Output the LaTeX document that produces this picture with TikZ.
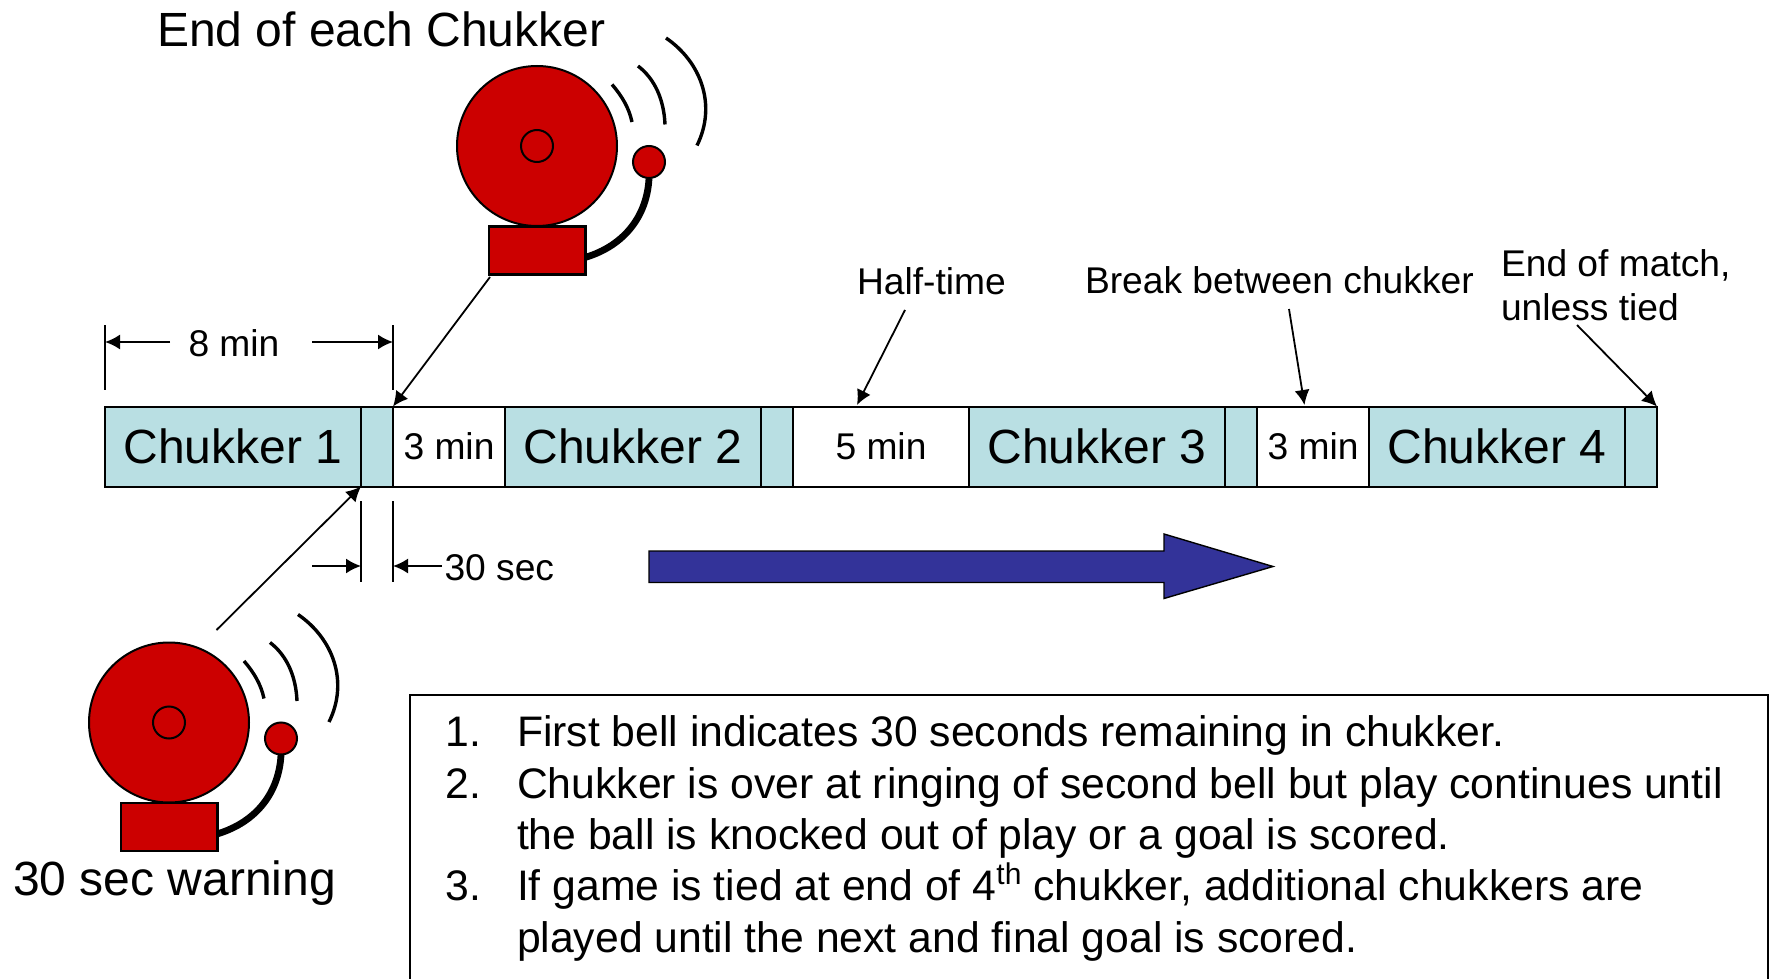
\documentclass[tikz,border=0pt]{standalone}
\usepackage{fontspec}
\setmainfont{Liberation Sans}
\usetikzlibrary{arrows.meta}
\definecolor{bellred}{HTML}{CC0000}
\definecolor{barteal}{HTML}{B9DFE3}
\definecolor{arrowblue}{HTML}{333399}
\newcommand{\fbig}{\fontsize{24}{26}\selectfont}
\newcommand{\fbar}{\fontsize{24}{26}\selectfont}
\newcommand{\fmid}{\fontsize{18.6}{20}\selectfont}
\newcommand{\flist}{\fontsize{21.35}{23}\selectfont}
\newcommand{\cellbox}[5]{\node[cellstyle,#5,minimum width={(#3-#2)*0.5pt}] (#1) at ({(#2+#3)/2},446.5) {\raisebox{-1pt}{#4}};}
\tikzset{
  x=0.5pt,y=-0.5pt,
  cellstyle/.style={draw=black,minimum height=40pt,inner sep=0pt,outer sep=0pt},
  teal/.style={fill=barteal},
  blank/.style={fill=white},
  lab/.style={anchor=base west,inner sep=0pt,outer sep=0pt,font=\fmid},
  biglab/.style={anchor=base west,inner sep=0pt,outer sep=0pt,font=\fbig},
  listlab/.style={anchor=base west,inner sep=0pt,outer sep=0pt,font=\flist},
  conn/.style={-{Latex[length=7.5pt,width=7.5pt]},line width=0.9pt},
  tick/.style={line width=0.9pt},
  bell/.pic={
    \draw[black,line width=3.4pt] (48,111.5) .. controls (88,99.5) and (110,69.5) .. (112,32.5);
    \draw[fill=bellred] (0,0) circle[radius=80];
    \draw (0,0) circle[radius=16];
    \draw[fill=bellred] (112,16) circle[radius=16];
    \draw[fill=bellred,line width=1.4pt] (-48,80.5) rectangle (48.5,128.5);
    \draw[line width=1.7pt] (75,-61.5) .. controls (85,-50) and (92,-38) .. (95,-24);
    \draw[line width=1.7pt] (101,-80) .. controls (118,-67) and (127,-46) .. (128,-21.5);
    \draw[line width=1.7pt] (129,-108) .. controls (164,-84) and (180,-41) .. (160,-0.5);
  }
}
\begin{document}
\begin{tikzpicture}[line width=1pt]
\useasboundingbox (0,0) rectangle (1769,979);
% bells
\pic at (537,146) {bell};
\pic at (169,722.5) {bell};
% bar
\cellbox{c1}{105}{361}{\fbar Chukker 1}{teal}
\cellbox{w1}{361}{393}{}{teal}
\cellbox{b1}{393}{505}{\fmid 3 min}{blank}
\cellbox{c2}{505}{761}{\fbar Chukker 2}{teal}
\cellbox{w2}{761}{793}{}{teal}
\cellbox{b2}{793}{969}{\fmid 5 min}{blank}
\cellbox{c3}{969}{1225}{\fbar Chukker 3}{teal}
\cellbox{w3}{1225}{1257}{}{teal}
\cellbox{b3}{1257}{1369}{\fmid 3 min}{blank}
\cellbox{c4}{1369}{1625}{\fbar Chukker 4}{teal}
\cellbox{w4}{1625}{1657}{}{teal}
% labels
\node[biglab] (endlab) at (157,47) {End of each Chukker};
\node[biglab] (warnlab) at (13,895) {30 sec warning};
\node[lab] (eightlab) at (188.5,356) {8 min};
\node[lab] (seclab) at (444.5,580) {30 sec};
\node[lab] (halflab) at (857,294) {Half-time};
\node[lab] (breaklab) at (1085,293) {Break between chukker};
\node[lab] (matchlab) at (1501,277) {End of match,};
\node[lab] (tiedlab) at (1501,321) {unless tied};
% connector free ends
\coordinate (fromend) at (490,277);
\coordinate (fromwarn) at (216.5,630);
\coordinate (fromhalf) at (905,310);
\coordinate (frombreak) at (1289,309);
\coordinate (frommatch) at (1577,325);
\coordinate (dimL) at (105,342);
\coordinate (dimLb) at (170,342);
\coordinate (dimR) at (393,342);
\coordinate (dimRb) at (312,342);
\coordinate (secL) at (361,566);
\coordinate (secLb) at (312,566);
\coordinate (secR) at (393,566);
\coordinate (secRb) at (442,566);
% connectors
\draw[conn] (fromend) -- (b1.north west);
\draw[conn] (fromwarn) -- (w1.south west);
\draw[conn] (fromhalf) -- (857,405);
\draw[conn] (frombreak) -- (1304.5,405);
\draw[conn] (frommatch) -- (w4.north east);
\draw[conn] (dimLb) -- (dimL);
\draw[conn] (dimRb) -- (dimR);
\draw[conn] (secLb) -- (secL);
\draw[conn] (secRb) -- (secR);
\draw[tick] (105,325) -- (105,390);
\draw[tick] (393,325) -- (393,390);
\draw[tick] (361,501) -- (361,582);
\draw[tick] (393,501) -- (393,582);
% blue arrow
\draw[fill=arrowblue,line width=0.7pt] (649,551) -- (1164,551) -- (1164,534) -- (1273,566.5) -- (1164,598.5) -- (1164,582.5) -- (649,582.5) -- cycle;
% note box
\draw (409.5,980) -- (409.5,694.5) -- (1768,694.5) -- (1768,980);
\node[listlab] (n1) at (445.5,746.6) {1.};
\node[listlab] (t1) at (517,746.6) {First bell indicates 30 seconds remaining in chukker.};
\node[listlab] (n2) at (445.5,798) {2.};
\node[listlab] (t2) at (517,798) {Chukker is over at ringing of second bell but play continues until};
\node[listlab] (t2b) at (517,849.3) {the ball is knocked out of play or a goal is scored.};
\node[listlab] (n3) at (445.5,900.5) {3.};
\node[listlab] (t3) at (517,900.5) {If game is tied at end of 4\raisebox{0.7ex}{\fontsize{15}{16}\selectfont th} chukker, additional chukkers are};
\node[listlab] (t3b) at (517,952.5) {played until the next and final goal is scored.};
\end{tikzpicture}
\end{document}
